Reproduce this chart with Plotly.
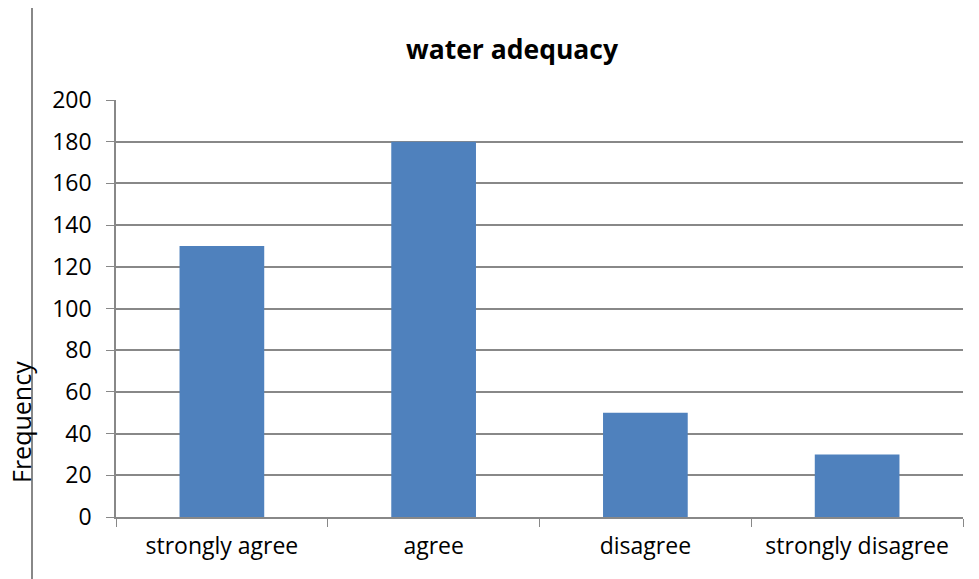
import plotly.graph_objects as go

categories = ["strongly agree", "agree", "disagree", "strongly disagree"]
frequency = [130, 180, 50, 30]
y_ticks = [0, 20, 40, 60, 80, 100, 120, 140, 160, 180, 200]

OFF = 8  # default page body margin
W, H = 979 - OFF, 579 - OFF
L, R, T, B = 116 - OFF, 16, 100 - OFF, 62
pw, ph = W - L - R, H - T - B

def px(x):
    return (x - OFF - L) / pw

def py(y):
    return (H - B - (y - OFF)) / ph

font = "Open Sans, Lato, sans-serif"

fig = go.Figure(go.Bar(
    x=categories, y=frequency, width=0.4,
    marker=dict(color="#4F81BD", line=dict(color="#4F81BD", width=0)),
))

fig.update_layout(
    width=W, height=H,
    margin=dict(l=L, r=R, t=T, b=B),
    paper_bgcolor="white", plot_bgcolor="white",
    font=dict(family=font, size=22, color="black"),
    showlegend=False,
    title=dict(text="<b>water adequacy</b>", x=(512 - OFF) / W, xanchor="center",
               y=1 - (50 - OFF) / H, yanchor="middle", font=dict(size=26.5, family=font)),
    xaxis=dict(
        type="category", tickson="boundaries", ticks="outside", ticklen=8,
        tickcolor="#888888", showline=True, linecolor="#888888", linewidth=1.5,
        showgrid=False, tickfont=dict(size=23), range=[-0.5, 3.5],
        ticklabelstandoff=8,
    ),
    yaxis=dict(
        range=[0, 200], tickvals=y_ticks, ticks="outside", ticklen=8,
        tickcolor="#888888", showline=True, linecolor="#888888", linewidth=1.5,
        showgrid=True, gridcolor="#888888", gridwidth=1.5, zeroline=False,
        tickfont=dict(size=23), ticklabelstandoff=10,
    ),
    annotations=[dict(
        text="Frequency", xref="paper", yref="paper", x=px(21), y=py(422),
        textangle=-90, showarrow=False, font=dict(size=25, family=font),
        xanchor="center", yanchor="middle",
    )],
    shapes=[dict(
        type="rect", xref="paper", yref="paper",
        x0=px(32), x1=px(990), y0=py(590), y1=py(7),
        line=dict(color="#888888", width=2), fillcolor="rgba(0,0,0,0)",
        layer="below",
    )],
)

fig.write_html("out.html")
